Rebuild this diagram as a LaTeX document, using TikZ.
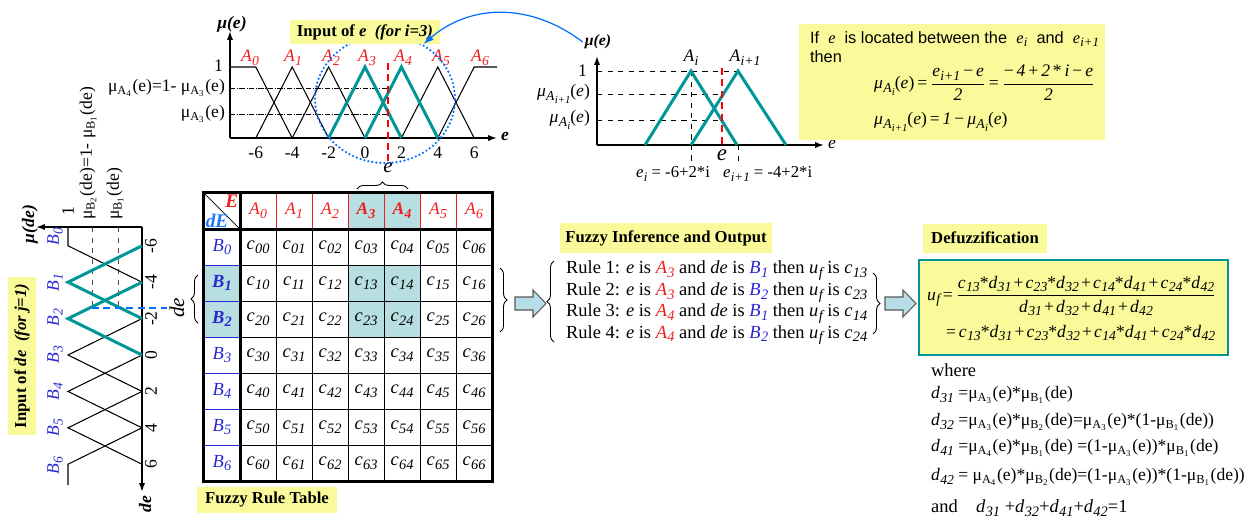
\documentclass[tikz,border=0pt]{standalone}
\usepackage{graphicx}
\usepackage{fontspec}
\setmainfont{Liberation Serif}
\newfontfamily\arialfont{Liberation Sans}
\usetikzlibrary{positioning,arrows.meta,shapes.geometric,decorations.pathreplacing}
\definecolor{mfteal}{RGB}{0,150,150}
\definecolor{noteyellow}{RGB}{250,250,155}
\definecolor{cellteal}{RGB}{183,222,224}
\definecolor{arrowfill}{RGB}{183,222,232}
\definecolor{labred}{RGB}{240,30,30}
\definecolor{labblue}{RGB}{40,40,210}
\definecolor{delblue}{RGB}{30,120,255}
\definecolor{circblue}{RGB}{0,110,255}
\newcommand{\isub}[2]{\textit{#1\kern0.2pt\raisebox{-0.45ex}{\scalebox{0.78}{#2}}}}
\newcommand{\muA}[1]{μ\textsubscript{A\textsubscript{#1}}}
\newcommand{\muB}[1]{μ\textsubscript{B\textsubscript{#1}}}
\newcommand{\fr}[2]{$\displaystyle\frac{\mbox{#1}}{\mbox{#2}}$}
\newcommand{\pl}{\kern1.2pt+\kern1.2pt}
\tikzset{
  axisarrow/.style={-{Latex[length=5pt,width=3.5pt]}, line width=0.9pt},
  mfline/.style={line width=0.6pt},
  mfhot/.style={line width=1.7pt, mfteal},
  levelline/.style={densely dashdotted, line width=0.5pt},
  guideline/.style={dashed, line width=0.5pt},
  redmark/.style={red, line width=1.3pt, dash pattern=on 4pt off 2.5pt},
  bluemark/.style={circblue, line width=1.2pt, dash pattern=on 4pt off 2.5pt},
  bluearrow/.style={-{Latex[length=6pt,width=4pt]}, circblue, line width=0.7pt},
  notebox/.style={fill=noteyellow, inner sep=2pt, font=\bfseries\fontsize{9.5}{11}\selectfont},
  alab/.style={labred, font=\itshape\fontsize{10}{12}\selectfont},
  blab/.style={labblue, rotate=90, font=\itshape\fontsize{10}{12}\selectfont},
  ticklab/.style={font=\fontsize{10}{12}\selectfont},
  axlab/.style={font=\bfseries\itshape\fontsize{10}{12}\selectfont},
  cellbox/.style={draw, line width=0.4pt, minimum size=0.72cm, inner sep=0pt, font=\fontsize{10.5}{12}\selectfont},
  tablethick/.style={line width=1.5pt},
  brace/.style={decorate, decoration={brace, amplitude=4pt}, line width=0.5pt},
  blockarrow/.style={draw=gray!70!black, fill=arrowfill, line width=0.6pt},
  bodytext/.style={font=\fontsize{10.5}{12.2}\selectfont}
}
\begin{document}
\begin{tikzpicture}[x=0.02cm, y=-0.02cm, every node/.style={inner sep=1pt, font=\fontsize{10}{12}\selectfont}]
\useasboundingbox (0,0) rectangle (1249,522);

% ---- membership functions of e
\draw[axisarrow] (230,138) -- (497,138);
\draw[axisarrow] (230,138) -- (230,31);
\node[axlab] (mue) at (232,24) {μ(e)};
\node[axlab] (eaxis) at (505,136) {e};
\draw[levelline] (230,88) -- (388,88);
\draw[levelline] (230,114) -- (388,114);
\draw[mfline] (230,67) -- (255.8,67) -- (292.2,138);
\foreach \i in {1,2,5}
  \draw[mfline] ({365+18.2*(2*\i-8)},138) -- ({365+18.2*(2*\i-6)},67) -- ({365+18.2*(2*\i-4)},138);
\draw[mfline] (437.8,138) -- (474.2,67) -- (497,67);
\foreach \i in {3,4}
  \draw[mfhot] ({365+18.2*(2*\i-8)},138) -- ({365+18.2*(2*\i-6)},67) -- ({365+18.2*(2*\i-4)},138);
\foreach \v in {-6,-4,...,6}
  \node[ticklab] at ({365+18.2*\v},153) {\v};
\foreach \i/\xx in {0/250,1/293,2/331,3/367,4/403,5/441,6/480}
  \node[alab] at (\xx,58) {\isub{A}{\i}};
\node[ticklab, anchor=east] at (225,66) {1};
\node[ticklab, anchor=east] at (227,88) {\muA{4}(e)=1- \muA{3}(e)};
\node[ticklab, anchor=east] at (227,114) {\muA{3}(e)};
\node[font=\itshape\fontsize{12}{12}\selectfont] (ein) at (388,168) {e};
\draw[redmark] (388,63) -- (ein.north);
\node[draw=circblue, ellipse, line width=1.4pt, line cap=round, dash pattern=on 0pt off 2.3pt,
  minimum width=2.8cm, minimum height=2.56cm] (zoomcirc) at (385,99) {};
\node[notebox, minimum width=3cm, minimum height=0.48cm] (inpute) at (365,32) {Input of \textit{e}\ \ \textit{(for i=3)}};

% ---- zoomed view of two neighbouring sets
\draw[axisarrow] (597,145) -- (824,145);
\draw[axisarrow] (597,145) -- (597,56);
\node[axlab, font=\bfseries\itshape\fontsize{9}{11}\selectfont] (mu2) at (598,42) {μ(e)};
\node[font=\itshape\fontsize{10}{12}\selectfont] at (832,144) {e};
\draw[guideline] (597,71) -- (738,71);
\draw[guideline] (597,94) -- (722,94);
\draw[guideline] (597,120) -- (722,120);
\draw[guideline] (691,71) -- (691,163);
\draw[guideline] (738,145) -- (738,163);
\draw[mfhot] (645,145) -- (691,71) -- (737,145);
\draw[mfhot] (691,145) -- (738,71) -- (786,145);
\node[font=\itshape\fontsize{13}{13}\selectfont] (e2) at (722,155) {e};
\draw[redmark] (722,68) -- (e2.north);
\node[ticklab, anchor=east] at (589,71) {1};
\node[ticklab, anchor=east] at (592,94) {\isub{μ}{\isub{A}{i+1}}(\textit{e})};
\node[ticklab, anchor=east] at (592,120) {\isub{μ}{\isub{A}{i}}(\textit{e})};
\node[ticklab] at (691,58) {\isub{A}{i}};
\node[ticklab] at (745,58) {\isub{A}{i+1}};
\node[ticklab, anchor=east, font=\fontsize{9.5}{11}\selectfont] at (712,174) {\isub{e}{i} = -6+2*i};
\node[ticklab, anchor=west, font=\fontsize{9.5}{11}\selectfont] at (721,174) {\isub{e}{i+1} = -4+2*i};
\draw[bluearrow] (mu2.west) .. controls (530,2) and (470,4) .. (zoomcirc.55);

% ---- interpolation note
\node[fill=noteyellow, minimum width=6.12cm, minimum height=2.32cm] (condbox) at (952,82) {};
\node[anchor=west, font=\arialfont\fontsize{9.3}{11}\selectfont] (iftext) at (808,39)
  {If\ \ {\rmfamily\itshape e}\ \ is located between the\ \ {\rmfamily\isub{e}{i}}\ \ and\ \ {\rmfamily\isub{e}{i+1}}};
\node[anchor=west, font=\arialfont\fontsize{9.3}{11}\selectfont] (thentext) at (808,57) {then};
\node[anchor=west] (form1) at (872,83)
  {\isub{μ}{\isub{A}{i}}(\textit{e})\,=\,\fr{\isub{e}{i+1}\,−\,\textit{e}}{\textit{2}}\,=\,\fr{−\,\textit{4}\,+\,\textit{2}\,*\,\textit{i}\,−\,\textit{e}}{\textit{2}}};
\node[anchor=west] (form2) at (872,122) {\isub{μ}{\isub{A}{i+1}}(\textit{e})\,=\,\textit{1}\,−\,\isub{μ}{\isub{A}{i}}(\textit{e})};

% ---- membership functions of de
\draw[axisarrow] (142,227) -- (36,227);
\draw[axisarrow] (142,227) -- (142,492);
\node[axlab, rotate=90] (mude) at (30,224) {μ(de)};
\node[axlab, rotate=90] (deaxis) at (145,504) {de};
\draw[guideline, gray!60!black] (92,227) -- (92,308);
\draw[guideline, gray!60!black] (118,227) -- (118,308);
\draw[mfline] (68,227) -- (68,245.8) -- (142,282.2);
\foreach \j in {3,4,5}
  \draw[mfline] (142,{355+18.2*(2*\j-8)}) -- (68,{355+18.2*(2*\j-6)}) -- (142,{355+18.2*(2*\j-4)});
\draw[mfline] (142,427.8) -- (68,464.2) -- (68,485);
\foreach \j in {1,2}
  \draw[mfhot] (142,{355+18.2*(2*\j-8)}) -- (68,{355+18.2*(2*\j-6)}) -- (142,{355+18.2*(2*\j-4)});
\foreach \v in {-6,-4,...,6}
  \node[ticklab, rotate=90] at (151,{355+18.2*\v}) {\v};
\foreach \j/\yy in {0/237,1/283,2/318,3/355,4/392,5/428,6/466}
  \node[blab] at (55,\yy) {\isub{B}{\j}};
\node[ticklab, rotate=90, anchor=west] at (68,218) {1};
\node[ticklab, rotate=90, anchor=west] at (88,222) {\muB{2}(de)=1- \muB{1}(de)};
\node[ticklab, rotate=90, anchor=west] at (115,222) {\muB{1}(de)};
\node[rotate=90, font=\itshape\fontsize{12}{12}\selectfont] (dein) at (177,308) {de};
\draw[bluemark] (92,308) -- (dein.north);
\draw[brace] (198,323) -- (198,275);
\node[notebox, rotate=90, minimum width=3.16cm, minimum height=0.58cm] (inputde) at (22,356) {Input of \textit{de}\ \ \textit{(for j=1)}};

% ---- fuzzy rule table
\fill[cellteal] (348,193) rectangle (420,229);
\fill[cellteal] (204,265) rectangle (240,337);
\fill[cellteal] (348,265) rectangle (420,337);
\node[cellbox] (corner) at (222,211) {};
\draw (corner.north west) -- (corner.south east);
\node[anchor=north east, labred, font=\bfseries\itshape\fontsize{11}{12}\selectfont] at (corner.north east) {E};
\node[anchor=south west, delblue, font=\bfseries\itshape\fontsize{11}{12}\selectfont] at (corner.south west) {dE};
\foreach \i/\hl in {0/0,1/0,2/0,3/1,4/1,5/0,6/0}
  \node[cellbox, labred, font=\itshape\fontsize{10}{12}\selectfont] (a\i) at ({258+36*\i},211) {\ifnum\hl=1\bfseries\fi\isub{A}{\i}};
\foreach \j/\hl in {0/0,1/1,2/1,3/0,4/0,5/0,6/0}{
  \node[cellbox, labblue, font=\itshape\fontsize{10.5}{12}\selectfont] (b\j) at (222,{247+36*\j}) {\ifnum\hl=1\bfseries\fi\isub{B}{\j}};
  \foreach \i in {0,...,6}
    \node[cellbox] (c\j\i) at ({258+36*\i},{247+36*\j}) {\isub{c}{\j\i}};
}
\draw[tablethick] (corner.north west) rectangle (c66.south east);
\draw[tablethick] (corner.north east) -- (b6.south east);
\draw[tablethick] (corner.south west) -- (a6.south east);
\draw[brace] (357,189) -- (408,189);
\node[notebox, minimum width=2.8cm, minimum height=0.52cm] (tablehead) at (267,500) {Fuzzy Rule Table};

% ---- inference
\draw[brace] (500,268) -- (500,332);
\draw[blockarrow] (515,297) -- (533,297) -- (533,290) -- (546,303.5) -- (533,317) -- (533,310) -- (515,310) -- cycle;
\node[notebox, minimum width=4.24cm, minimum height=0.6cm] (infhead) at (666,238) {Fuzzy Inference and Output};
\draw[brace] (554,342) -- (554,261);
\node[bodytext, anchor=west, align=left] (rules) at (564,303) {%
Rule 1: \textit{e} is \textcolor{labred}{\isub{A}{3}} and \textit{de} is \textcolor{labblue}{\isub{B}{1}} then \isub{u}{f} is \isub{c}{13}\\
Rule 2: \textit{e} is \textcolor{labred}{\isub{A}{3}} and \textit{de} is \textcolor{labblue}{\isub{B}{2}} then \isub{u}{f} is \isub{c}{23}\\
Rule 3: \textit{e} is \textcolor{labred}{\isub{A}{4}} and \textit{de} is \textcolor{labblue}{\isub{B}{1}} then \isub{u}{f} is \isub{c}{14}\\
Rule 4: \textit{e} is \textcolor{labred}{\isub{A}{4}} and \textit{de} is \textcolor{labblue}{\isub{B}{2}} then \isub{u}{f} is \isub{c}{24}};
\draw[brace] (873,273) -- (873,334);
\draw[blockarrow] (885,297) -- (903,297) -- (903,290) -- (916,303.5) -- (903,317) -- (903,310) -- (885,310) -- cycle;

% ---- defuzzification
\node[notebox, minimum width=2.48cm, minimum height=0.58cm] (defhead) at (985,238) {Defuzzification};
\node[draw=mfteal, fill=noteyellow, line width=0.9pt, minimum width=6.18cm, minimum height=1.9cm] (defbox) at (1073.5,307.5) {};
\node[anchor=west, font=\fontsize{10}{12}\selectfont] (uf) at (925,296)
  {\isub{u}{f}\,=\,\fr{\isub{c}{13}*\isub{d}{31}\pl\isub{c}{23}*\isub{d}{32}\pl\isub{c}{14}*\isub{d}{41}\pl\isub{c}{24}*\isub{d}{42}}{\isub{d}{31}\pl\isub{d}{32}\pl\isub{d}{41}\pl\isub{d}{42}}};
\node[anchor=west, font=\fontsize{10}{12}\selectfont] (uf2) at (944,333)
  {=\,\isub{c}{13}*\isub{d}{31}\pl\isub{c}{23}*\isub{d}{32}\pl\isub{c}{14}*\isub{d}{41}\pl\isub{c}{24}*\isub{d}{42}};
\node[bodytext, anchor=west] (where) at (929,370) {where};
\node[bodytext, anchor=west, font=\fontsize{10}{12}\selectfont] (d31) at (929,395) {\isub{d}{31} =\muA{3}(e)*\muB{1}(de)};
\node[bodytext, anchor=west, font=\fontsize{10}{12}\selectfont] (d32) at (929,422) {\isub{d}{32} =\muA{3}(e)*\muB{2}(de)=\muA{3}(e)*(1-\muB{1}(de))};
\node[bodytext, anchor=west, font=\fontsize{10}{12}\selectfont] (d41) at (929,448) {\isub{d}{41} =\muA{4}(e)*\muB{1}(de) =(1-\muA{3}(e))*\muB{1}(de)};
\node[bodytext, anchor=west, font=\fontsize{10}{12}\selectfont] (d42) at (929,477) {\isub{d}{42} = \muA{4}(e)*\muB{2}(de)=(1-\muA{3}(e))*(1-\muB{1}(de))};
\node[bodytext, anchor=west] (dsum) at (929,508) {and\quad\isub{d}{31} +\isub{d}{32}+\isub{d}{41}+\isub{d}{42}=1};
\end{tikzpicture}
\end{document}
